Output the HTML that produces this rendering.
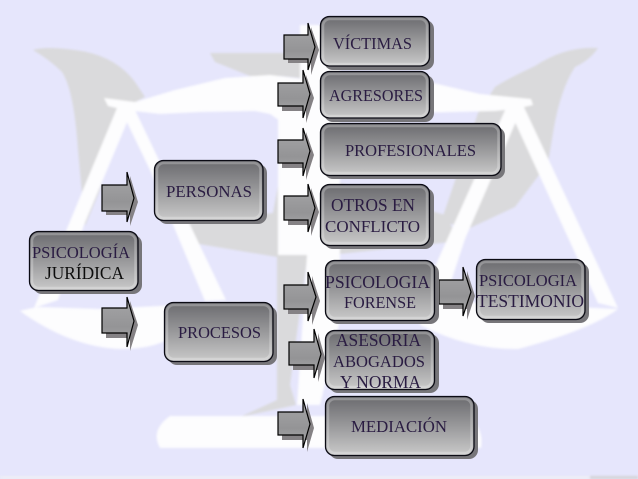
<!DOCTYPE html>
<html><head><meta charset="utf-8"><style>
html,body{margin:0;padding:0;background:#e6e6fc}
svg{display:block}
text{font-family:"Liberation Serif",serif;fill:#2a1d42;font-size:17px}
</style></head><body>
<svg xmlns="http://www.w3.org/2000/svg" width="638" height="479" viewBox="0 0 638 479">
<defs>
<linearGradient id="b" x1="0" y1="0" x2="0" y2="1"><stop offset="0" stop-color="#6a6a6e"/><stop offset=".5" stop-color="#99999b"/><stop offset="1" stop-color="#cacaca"/></linearGradient>
<linearGradient id="a" x1="0" y1="0" x2="0" y2="1"><stop offset="0" stop-color="#bcbcbe"/><stop offset=".2" stop-color="#a0a0a2"/><stop offset=".6" stop-color="#949496"/><stop offset="1" stop-color="#ababad"/></linearGradient>
<filter id="s" x="-10%" y="-10%" width="120%" height="120%"><feGaussianBlur stdDeviation="1"/></filter>
<filter id="t" x="-5%" y="-5%" width="110%" height="110%"><feGaussianBlur stdDeviation=".3"/></filter>
</defs>
<rect width="638" height="479" fill="#e6e6fc"/>
<g filter="url(#s)">
<g fill="#dadadc">
<path d="M33 50Q45 46 75 50Q115 55 135 82L145 97L120 110L100 190L85 226L78 150Q74 90 62 72Q50 60 33 50Z"/>
<path d="M210 53L290 53L320 65L320 80L280 76L250 76L215 62Z"/>
<path d="M598 48Q565 46 535 66Q505 80 495 87L478 113L441 222L470 228L515 207L548 163L553 133Q560 90 575 67Q590 60 598 48Z"/>
<path d="M175 222L273 213L290 120L330 180L445 215L460 241L330 255L307 260L296 340L290 385L296 405L240 417L277 400L277 257L187 242Z"/>
</g>
<g fill="#fdfdfe">
<path d="M104 98L135 102L175 90L225 78L270 75L310 80L345 80L433 83L480 94L531 99L533 105L515 109L495 111L330 115L286 125L270 114L255 111L200 112L160 114L125 110L108 106Z"/>
<path d="M278 118L300 100L300 25L340 25L340 320L320 405L297 405L307 255L278 255Z"/>
<path d="M117 108L133 108L84 225L58 300L34 308Z"/>
<path d="M122 112L135 110L226 300L205 301L150 170Z"/>
<path d="M20 311Q30 308 40 307L100 309L240 302L240 320L167 340Q150 349 120 349Q70 347 20 311Z"/>
<path d="M509 109L523 105L618 308L598 303Z"/>
<path d="M506 108L521 110L465 239L445 300L420 300Z"/>
<path d="M420 300L618 309Q590 330 518 349Q470 350 420 325Z"/>
<path d="M170 416L340 416L470 416Q484 430 481 448L160 448Q150 430 170 416Z"/>
</g>
<rect x="0" y="476" width="638" height="3" fill="#eeeef6"/>
<rect x="590" y="476" width="48" height="3" fill="#d4d4d8"/>
</g>

<g stroke-linejoin="miter">
<path d="M288 40h23v-13l8 23-8 25v-12h-23z" fill="#858285"/>
<path d="M284 35h24v-12l7 24-7 23v-11h-24z" fill="url(#a)" stroke="#000" stroke-width="1.2"/>
<path d="M282 88h24v-13l8 23-8 25v-12h-24z" fill="#858285"/>
<path d="M278 83h25v-13l7 24-7 24v-12h-25z" fill="url(#a)" stroke="#000" stroke-width="1.2"/>
<path d="M282 145h24v-13l8 23-8 25v-12h-24z" fill="#858285"/>
<path d="M278 140h25v-12l7 23-7 25v-13h-25z" fill="url(#a)" stroke="#000" stroke-width="1.2"/>
<path d="M288 201h23v-13l8 24-8 24v-11h-23z" fill="#858285"/>
<path d="M284 196h24v-12l7 24-7 24v-12h-24z" fill="url(#a)" stroke="#000" stroke-width="1.2"/>
<path d="M106 190h24v-14l8 26-8 24v-11h-24z" fill="#858285"/>
<path d="M102 185h25v-13l7 26-7 24v-11h-25z" fill="url(#a)" stroke="#000" stroke-width="1.2"/>
<path d="M106 313h24v-12l8 24-8 26v-13h-24z" fill="#858285"/>
<path d="M102 308h25v-11l7 24-7 26v-14h-25z" fill="url(#a)" stroke="#000" stroke-width="1.2"/>
<path d="M288 290h24v-14l8 25-8 24v-11h-24z" fill="#858285"/>
<path d="M284 285h24v-13l8 25-8 24v-12h-24z" fill="url(#a)" stroke="#000" stroke-width="1.2"/>
<path d="M293 347h25v-14l7 25-7 24v-12h-25z" fill="#858285"/>
<path d="M289 342h25v-13l7 25-7 24v-13h-25z" fill="url(#a)" stroke="#000" stroke-width="1.2"/>
<path d="M282 417h25v-14l7 25-7 24v-12h-25z" fill="#858285"/>
<path d="M278 412h25v-13l7 25-7 24v-13h-25z" fill="url(#a)" stroke="#000" stroke-width="1.2"/>
<path d="M443 285h24v-14l8 25-8 24v-11h-24z" fill="#858285"/>
<path d="M439 280h24v-13l8 25-8 24v-12h-24z" fill="url(#a)" stroke="#000" stroke-width="1.2"/>
</g>

<g>
<g fill="#77767a">
<rect x="324" y="20" width="110" height="50" rx="9"/>
<rect x="324" y="75" width="110" height="47" rx="9"/>
<rect x="324" y="127" width="181" height="52" rx="9"/>
<rect x="324" y="188" width="110" height="61" rx="9"/>
<rect x="329" y="264" width="110" height="60" rx="9"/>
<rect x="480" y="263" width="109" height="60" rx="9"/>
<rect x="329" y="334" width="110" height="59" rx="9"/>
<rect x="329" y="400" width="149" height="59" rx="9"/>
<rect x="158" y="164" width="109" height="60" rx="9"/>
<rect x="168" y="306" width="109" height="59" rx="9"/>
<rect x="33" y="235" width="109" height="59" rx="9"/>
</g>
<g fill="url(#b)" stroke="#0b0b14" stroke-width="1.300">
<rect x="320.500" y="16.500" width="109" height="49.500" rx="9"/>
<rect x="320.500" y="71.500" width="109" height="46.500" rx="9"/>
<rect x="320.500" y="123.500" width="180.500" height="52" rx="9"/>
<rect x="320.500" y="184.500" width="109" height="61" rx="9"/>
<rect x="325.500" y="260.500" width="109" height="60" rx="9"/>
<rect x="476.500" y="259.500" width="108.500" height="60" rx="9"/>
<rect x="325.500" y="330.500" width="109" height="59" rx="9"/>
<rect x="325.500" y="396.500" width="148.500" height="59" rx="9"/>
<rect x="154.500" y="160.500" width="108.500" height="60" rx="9"/>
<rect x="164.500" y="302.500" width="108.500" height="59" rx="9"/>
<rect x="29.500" y="231.500" width="108.500" height="59" rx="9"/>
</g>
<g fill="none" stroke="#fff" stroke-opacity=".25" stroke-width="2.500">
<rect x="323" y="19" width="104" height="45" rx="7"/>
<rect x="323" y="74" width="104" height="42" rx="7"/>
<rect x="323" y="126" width="175.500" height="47" rx="7"/>
<rect x="323" y="187" width="104" height="56" rx="7"/>
<rect x="328" y="263" width="104" height="55" rx="7"/>
<rect x="479" y="262" width="103.500" height="55" rx="7"/>
<rect x="328" y="333" width="104" height="54" rx="7"/>
<rect x="328" y="399" width="143.500" height="54" rx="7"/>
<rect x="157" y="163" width="103.500" height="55" rx="7"/>
<rect x="167" y="305" width="103.500" height="54" rx="7"/>
<rect x="32" y="234" width="103.500" height="54" rx="7"/>
</g>
</g>

<g filter="url(#t)">
<text x="333" y="49" textLength="79" lengthAdjust="spacingAndGlyphs">VÍCTIMAS</text>
<text x="329" y="101" textLength="94" lengthAdjust="spacingAndGlyphs">AGRESORES</text>
<text x="345" y="156" textLength="131" lengthAdjust="spacingAndGlyphs">PROFESIONALES</text>
<text x="331" y="211" textLength="84" lengthAdjust="spacingAndGlyphs" style="font-size:18px">OTROS EN</text>
<text x="325" y="232" textLength="95" lengthAdjust="spacingAndGlyphs">CONFLICTO</text>
<text x="325" y="288" textLength="105" lengthAdjust="spacingAndGlyphs" style="font-size:18px">PSICOLOGIA</text>
<text x="344" y="308" textLength="72" lengthAdjust="spacingAndGlyphs">FORENSE</text>
<text x="479" y="286" textLength="98" lengthAdjust="spacingAndGlyphs">PSICOLOGIA</text>
<text x="477" y="307" textLength="107" lengthAdjust="spacingAndGlyphs" style="font-size:18px">TESTIMONIO</text>
<text x="336" y="346" textLength="85" lengthAdjust="spacingAndGlyphs" style="font-size:18px">ASESORIA</text>
<text x="333" y="367" textLength="92" lengthAdjust="spacingAndGlyphs">ABOGADOS</text>
<text x="340" y="388" textLength="81" lengthAdjust="spacingAndGlyphs" style="font-size:18px">Y NORMA</text>
<text x="351" y="432" textLength="96" lengthAdjust="spacingAndGlyphs">MEDIACIÓN</text>
<text x="166" y="197" textLength="86" lengthAdjust="spacingAndGlyphs">PERSONAS</text>
<text x="178" y="338" textLength="83" lengthAdjust="spacingAndGlyphs">PROCESOS</text>
<text x="32" y="258" textLength="98" lengthAdjust="spacingAndGlyphs">PSICOLOGÍA</text>
<text x="45" y="279" textLength="79" lengthAdjust="spacingAndGlyphs" style="font-size:18px;fill:#111">JURÍDICA</text>
</g>
</svg>
</body></html>
